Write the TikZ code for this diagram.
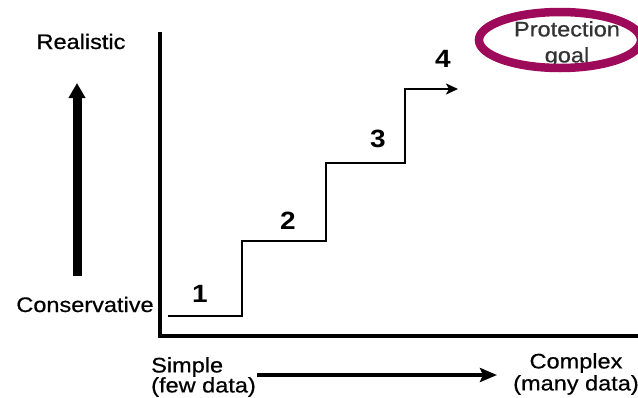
\documentclass[tikz,border=0pt]{standalone}
\usepackage{fontspec}
\setmainfont{Liberation Sans}
\newfontfamily\lblfont[FakeBold=0.6]{Liberation Sans}
\usetikzlibrary{arrows.meta}
\definecolor{goalring}{HTML}{9E0A5A}
\tikzset{
  lbl/.style={font=\lblfont\fontsize{21}{#1}\selectfont, xscale=1.12, transform shape, inner sep=0pt},
  lbl/.default=22,
  num/.style={font=\fontsize{25}{28}\selectfont\bfseries, xscale=1.12, transform shape, inner sep=0pt, anchor=base},
  axisline/.style={line width=4.5pt},
  stairline/.style={line width=2.5pt, -{Stealth[length=12pt,width=11pt,inset=3pt]}},
  bigarrow/.style={line width=9pt, -{Triangle[length=15pt,width=16pt]}},
  dataarrow/.style={line width=4.5pt, -{Stealth[length=17pt,width=14pt,inset=3pt]}},
  ring/.style={draw=goalring, line width=8.5pt}
}
\begin{document}
\begin{tikzpicture}[x=1pt,y=-1pt]
\useasboundingbox (0,0) rectangle (638,397);
% axes
\coordinate (ytop) at (160,32);
\coordinate (orig) at (160,336);
\coordinate (xend) at (642,336);
\draw[axisline] (ytop) -- (orig) -- (xend);
% staircase
\coordinate (s0) at (168,316);
\coordinate (s1) at (242,241);
\coordinate (s2) at (326,163);
\coordinate (s3) at (405,89);
\coordinate (s4) at (458,89);
\draw[stairline] (s0) -| (s1) -| (s2) -| (s3) -- (s4);
% step numbers
\node[num] (n1) at (200,302) {1};
\node[num] (n2) at (288,229) {2};
\node[num] (n3) at (378,147) {3};
\node[num] (n4) at (443,67) {4};
% vertical axis labels
\node[lbl, anchor=base] (real) at (81,49) {Realistic};
\node[lbl, anchor=base] (cons) at (85,312) {Conservative};
\coordinate (vbot) at (77,276);
\coordinate (vtop) at (77,83);
\draw[bigarrow] (vbot) -- (vtop);
% horizontal axis labels
\node[lbl=20, anchor=north west, align=left] (simple) at (151,357) {Simple\\(few data)};
\node[lbl=22, anchor=north, align=center] (complex) at (576,353) {Complex\\(many data)};
\coordinate (hleft) at (257,375);
\coordinate (hright) at (497,375);
\draw[dataarrow] (hleft) -- (hright);
% protection goal
\node[lbl=26, anchor=north, align=center, text=black!80] (goal) at (567,21) {Protection\\goal};
\draw[ring] (560,40) ellipse [x radius=81, y radius=28];
\end{tikzpicture}
\end{document}
